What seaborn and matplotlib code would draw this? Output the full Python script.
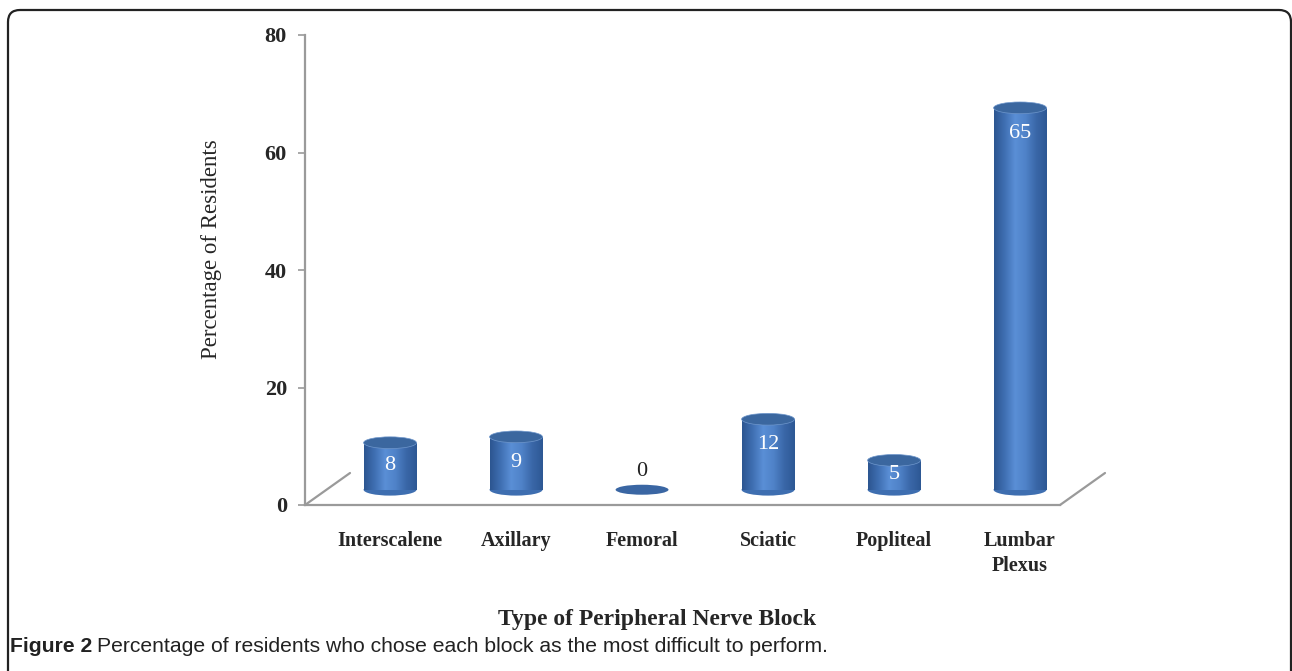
import numpy as np
import pandas as pd
import matplotlib
matplotlib.use("Agg")
import matplotlib.pyplot as plt
import seaborn as sns
from matplotlib.patches import Ellipse, FancyBboxPatch
from matplotlib.colors import LinearSegmentedColormap
from matplotlib.transforms import IdentityTransform

categories = ["Interscalene", "Axillary", "Femoral", "Sciatic", "Popliteal", "Lumbar\nPlexus"]
values = [8, 9, 0, 12, 5, 65]
y_ticks = [0, 20, 40, 60, 80]

df = pd.DataFrame({"block": categories, "pct": values})

sns.set_style("white")
plt.rcParams["font.family"] = ["Liberation Serif", "DejaVu Serif"]

W, H = 1292, 671
fig = plt.figure(figsize=(W / 100, H / 100), dpi=100)
ax = fig.add_axes([305 / W, 1 - 505 / H, (1060 - 305) / W, (505 - 35) / H])

DEPTH = 2.6
BAR_W = 0.42
CAP_H = 2.0

sns.barplot(data=df, x="block", y="pct", ax=ax, color="#4a7cc0", width=BAR_W,
            saturation=1, linewidth=0, zorder=3)

cmap = LinearSegmentedColormap.from_list(
    "cyl", ["#2c5590", "#3f6fb2", "#5a8fd6", "#4f82c8", "#3a67a8", "#2d5894"])
grad = np.linspace(0, 1, 256).reshape(1, -1)

for p, v in zip(ax.patches, values):
    p.set_y(DEPTH)
    x0 = p.get_x()
    w = p.get_width()
    cx = x0 + w / 2
    if v > 0:
        p.set_facecolor("none")
        im = ax.imshow(grad, cmap=cmap, aspect="auto", extent=(x0, x0 + w, DEPTH, DEPTH + v),
                       zorder=3, interpolation="bicubic")
        im.set_clip_path(p)
        bot = Ellipse((cx, DEPTH), w, CAP_H, facecolor="#3e6eb0", edgecolor="none", zorder=2.9)
        ax.add_patch(bot)
        top = Ellipse((cx, DEPTH + v), w, CAP_H, facecolor="#3b679f", edgecolor="#6f97cc",
                      linewidth=0.5, zorder=4)
        ax.add_patch(top)
        ty = DEPTH + v - 4.3 if v > 10 else DEPTH + v / 2 + 0.1
        ax.text(cx, ty, str(v), ha="center", va="center", color="white", fontsize=16, zorder=5)
    else:
        p.set_height(0)
        flat = Ellipse((cx, DEPTH), w, CAP_H * 0.85, facecolor="#3a66a3", edgecolor="none", zorder=4)
        ax.add_patch(flat)
        ax.text(cx, DEPTH + 3.1, str(v), ha="center", va="center", color="#222222", fontsize=16, zorder=5)

x_left, x_right = -0.675, 5.317
ax.set_xlim(x_left, x_right)
ax.set_ylim(0, 80)
ax.set_yticks(y_ticks)
ax.set_yticklabels([str(t) for t in y_ticks], fontweight="bold", fontsize=16)
ax.set_xticks(range(len(categories)))
ax.set_xticklabels(categories, fontweight="bold", fontsize=14.5, linespacing=1.3)
ax.tick_params(axis="x", length=0, pad=19)
ax.tick_params(axis="y", length=5, width=1.2, color="#9a9a9a", left=True, direction="out", pad=8)

for s in ["top", "right"]:
    ax.spines[s].set_visible(False)
for s in ["left", "bottom"]:
    ax.spines[s].set_color("#9a9a9a")
    ax.spines[s].set_linewidth(1.6)

# perspective floor lines
dx = 45 / 126
dy = 32 / 5.875
ax.plot([x_left, x_left + dx], [0, dy], color="#9a9a9a", lw=1.6, clip_on=False, zorder=1)
ax.plot([x_right, x_right + dx], [0, dy], color="#9a9a9a", lw=1.6, clip_on=False, zorder=1)

ax.set_ylabel("Percentage of Residents", fontsize=16.5, labelpad=0)
ax.yaxis.set_label_coords((222 - 305) / (1060 - 305), (505 - 249) / 470)
ax.set_xlabel("Type of Peripheral Nerve Block", fontsize=17, fontweight="bold")
ax.xaxis.set_label_coords((657 - 305) / (1060 - 305), -(609 - 505) / 470)

# border frame
frame = FancyBboxPatch((8, -30), 1283, 671 - 10 + 30, boxstyle="round,pad=0,rounding_size=12",
                       transform=IdentityTransform(), facecolor="none", edgecolor="#222222",
                       linewidth=1.6)
fig.patches.append(frame)

# caption
cap_font = ["Liberation Sans Narrow", "Liberation Sans", "DejaVu Sans"]
t1 = fig.text(10 / W, 1 - 646 / H, "Figure 2", fontsize=15.2, fontweight="bold",
              family=cap_font, va="center", ha="left", color="#222222")
fig.canvas.draw()
bb = t1.get_window_extent(renderer=fig.canvas.get_renderer())
fig.text((bb.x1 + 5) / W, 1 - 646 / H,
         "Percentage of residents who chose each block as the most difficult to perform.",
         fontsize=15.2, family=cap_font, va="center", ha="left", color="#222222")

fig.savefig("out.png", dpi=100)
